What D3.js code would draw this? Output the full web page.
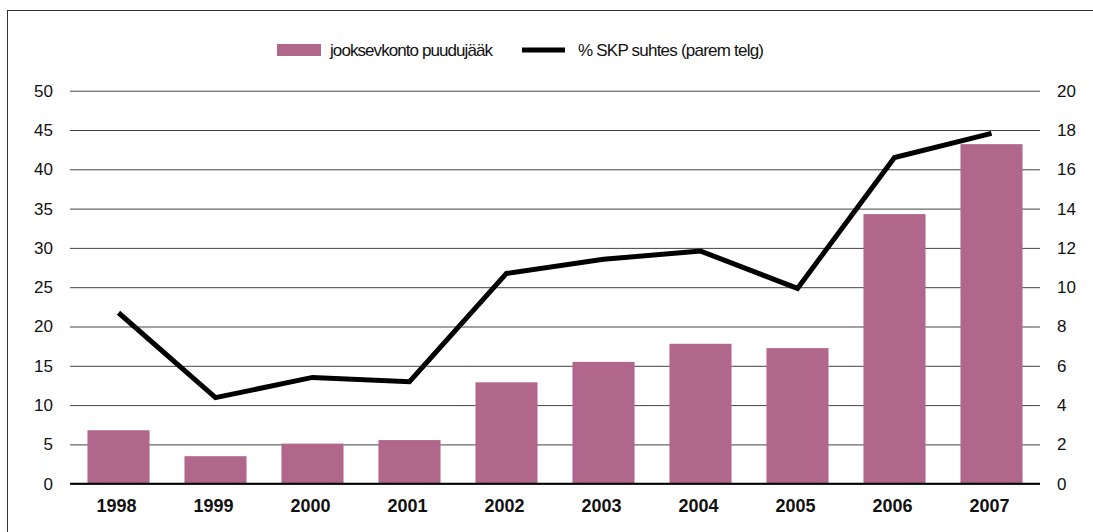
<!DOCTYPE html>
<html><head><meta charset="utf-8">
<script src="https://cdn.jsdelivr.net/npm/d3@7"></script>
<style>body{margin:0;background:#fff;} text{font-family:"Liberation Sans",Arial,sans-serif;}</style>
</head><body>
<svg id="c" width="1093" height="532"></svg>
<script>
const years = ["1998","1999","2000","2001","2002","2003","2004","2005","2006","2007"];
const deficit = [6.8, 3.5, 5.1, 5.55, 12.9, 15.5, 17.8, 17.25, 34.3, 43.2];
const gdpShare = [8.7, 4.38, 5.41, 5.19, 10.7, 11.42, 11.84, 9.94, 16.6, 17.83];
const leftTicks = [0,5,10,15,20,25,30,35,40,45,50];
const rightTicks = [0,2,4,6,8,10,12,14,16,18,20];
const legendLabels = ["jooksevkonto puudujääk", "% SKP suhtes (parem telg)"];

const svg = d3.select("#c");
const x0 = 70, x1 = 1040, yTop = 90.7, yBot = 483.7;
const barColor = "#b1668b";
const FF = "Liberation Sans, Arial, sans-serif";

svg.append("rect").attr("x",7.5).attr("y",10.5).attr("width",1100).attr("height",600)
  .attr("fill","none").attr("stroke","#333").attr("stroke-width",1);

const x = d3.scaleBand().domain(years).range([x0,x1]).paddingInner(0.36).paddingOuter(0.18);
const yL = d3.scaleLinear().domain([0,50]).range([yBot,yTop]);
const yR = d3.scaleLinear().domain([0,20]).range([yBot,yTop]);

const gAxisL = svg.append("g").attr("transform",`translate(${x0},0)`)
  .call(d3.axisLeft(yL).tickValues(leftTicks).tickSize(-(x1-x0)).tickPadding(17));
gAxisL.select(".domain").remove();
gAxisL.selectAll(".tick line").attr("stroke", "#444").attr("stroke-width", 1);
gAxisL.selectAll(".tick text").attr("font-size",17).attr("fill","#111").attr("font-family",FF);

const gAxisR = svg.append("g").attr("transform",`translate(${x1},0)`)
  .call(d3.axisRight(yR).tickValues(rightTicks).tickSize(0).tickPadding(17));
gAxisR.select(".domain").remove();
gAxisR.selectAll(".tick text").attr("font-size",17).attr("fill","#111").attr("font-family",FF);

svg.append("g").selectAll("rect").data(years).join("rect")
  .attr("x", d => x(d)).attr("width", x.bandwidth())
  .attr("y", (d,i) => yL(deficit[i])).attr("height", (d,i) => yBot - yL(deficit[i]))
  .attr("fill", barColor);

svg.append("line").attr("x1",x0).attr("x2",x1).attr("y1",yBot).attr("y2",yBot)
  .attr("stroke","#000").attr("stroke-width",2);

const line = d3.line().x((d,i) => x(years[i]) + x.bandwidth()/2).y(d => yR(d));
svg.append("path").datum(gdpShare).attr("d", line)
  .attr("fill","none").attr("stroke","#000").attr("stroke-width",5).attr("stroke-linejoin","miter");

const gx = svg.append("g").attr("transform",`translate(-2,${yBot})`)
  .call(d3.axisBottom(x).tickSize(0).tickPadding(16));
gx.select(".domain").remove();
gx.selectAll(".tick text").attr("font-size",18).attr("font-weight","bold").attr("fill","#111").attr("font-family",FF);

const lg = svg.append("g");
lg.append("rect").attr("x",277).attr("y",44).attr("width",44).attr("height",12).attr("fill",barColor);
lg.append("text").attr("x",330).attr("y",56).attr("font-size",17).attr("fill","#111").attr("textLength",163).text(legendLabels[0]);
lg.append("line").attr("x1",522).attr("x2",565).attr("y1",50).attr("y2",50).attr("stroke","#000").attr("stroke-width",5);
lg.append("text").attr("x",578).attr("y",56).attr("font-size",17).attr("fill","#111").attr("textLength",186).text(legendLabels[1]);
</script>
</body></html>
